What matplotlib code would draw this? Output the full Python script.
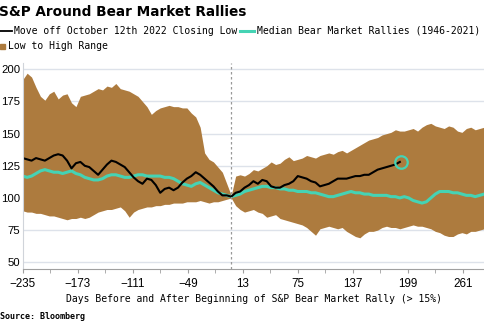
import numpy as np
import matplotlib
matplotlib.use("Agg")
import matplotlib.pyplot as plt
from matplotlib.lines import Line2D
from matplotlib.patches import Rectangle

# days relative to start of rally (5 day steps)
days = np.arange(-235, 290, 5)

range_high = [192, 197, 194, 186, 179, 176, 181, 183, 177, 180,
              181, 174, 171, 179, 180, 181, 183, 185, 184, 187,
              186, 189, 185, 184, 183, 181, 179, 175, 171, 165,
              168, 170, 171, 172, 171, 171, 170, 170, 166, 163,
              155, 135, 130, 128, 124, 120, 111, 102, 117, 118,
              117, 119,
              122, 121, 123, 125, 128, 126, 127, 130, 132, 129,
              130, 131, 133, 132, 131, 133, 134, 135, 134, 136,
              137, 135, 137, 139, 141, 143, 145, 146, 147, 149,
              150, 151, 153, 152, 152, 153, 154, 152, 155, 157,
              158, 156, 155, 154, 156, 155, 152, 151, 154, 155,
              153, 154, 155]

range_low = [90, 89, 89, 88, 88, 87, 86, 86, 85, 84,
             83, 84, 84, 85, 84, 85, 87, 89, 90, 91,
             91, 92, 93, 90, 85, 89, 91, 92, 93, 93,
             94, 94, 95, 95, 96, 96, 96, 97, 97, 97,
             98, 97, 96, 97, 97, 98, 99, 100, 94, 91,
             89, 90,
             91, 89, 88, 85, 86, 87, 84, 83, 82, 81,
             80, 79, 77, 74, 71, 76, 77, 78, 77, 76,
             77, 74, 72, 70, 69, 72, 74, 74, 75, 77,
             78, 77, 77, 76, 77, 78, 79, 78, 78, 77,
             76, 74, 73, 71, 70, 70, 72, 73, 72, 74,
             74, 75, 76]

median_rally = [117, 116, 117, 119, 121, 122, 121, 120, 120, 119,
                120, 121, 119, 118, 116, 115, 114, 114, 115, 117,
                118, 118, 117, 116, 116, 117, 118, 118, 117, 117,
                117, 117, 116, 116, 115, 113, 111, 110, 109, 111,
                112, 110, 108, 106, 104, 103, 102, 101, 102, 103,
                105, 106,
                107, 108, 109, 109, 108, 108, 107, 107, 106, 106,
                105, 105, 105, 104, 104, 103, 102, 101, 101, 102,
                103, 104, 105, 104, 104, 103, 103, 102, 102, 102,
                102, 101, 101, 100, 101, 100, 98, 97, 96, 97,
                100, 103, 105, 105, 105, 104, 104, 103, 102, 102,
                101, 102, 103]

# move off Oct 12th 2022 closing low
days_2022 = np.arange(-235, 195, 5)
move_2022 = [131, 130, 129, 131, 130, 129, 131, 133, 134, 133,
             129, 123, 127, 128, 125, 124, 121, 118, 122, 126,
             129, 128, 126, 124, 120, 116, 113, 111, 115, 114,
             110, 104, 107, 108, 106, 108, 112, 115, 117, 120,
             118, 115, 112, 109, 105, 102, 102, 101, 104, 105,
             108, 110,
             113, 111, 114, 113, 109, 108, 108, 110, 111, 113,
             117, 116, 115, 113, 112, 109, 110, 111, 113, 115,
             115, 115, 116, 117, 117, 118, 118, 120, 122, 123,
             124, 125, 126, 128]

xticks_major = [-235, -173, -111, -49, 13, 75, 137, 199, 261]
yticks = [50, 75, 100, 125, 150, 175, 200]

brown = "#AD7B3E"
teal = "#45D3B4"
mono = "DejaVu Sans Mono"

fig = plt.figure(figsize=(4.85, 3.25), dpi=100)
ax = fig.add_axes([0.0468, 0.1714, 0.9532, 0.635])

ax.fill_between(days, range_low, range_high, color=brown, lw=0)
ax.plot(days, median_rally, color=teal, lw=2.2)
ax.plot(days_2022, move_2022, color="black", lw=1.5)
ax.plot(days_2022[-1] + 1, move_2022[-1], "o", ms=9, mfc="none",
        mec=teal, mew=1.6)
ax.axvline(0, color="#999999", lw=0.9, ls=(0, (2, 2)))

ax.set_xlim(-235, 286)
ax.set_ylim(44.5, 205)
ax.set_yticks(yticks)
ax.set_xticks(xticks_major)
ax.set_xticks(np.arange(-235, 286, 31), minor=True)
ax.grid(axis="y", color="#dde2ea", lw=1)
ax.set_axisbelow(True)

for s in ["top", "right"]:
    ax.spines[s].set_visible(False)
ax.spines["left"].set_color("#d0d4da")
ax.spines["bottom"].set_color("#a0a0a0")

ax.tick_params(axis="y", length=0, pad=1.8, labelsize=8.2)
ax.tick_params(axis="x", which="both", length=3, color="#a0a0a0",
               direction="out", pad=3, labelsize=8.4)
for lbl in ax.get_xticklabels() + ax.get_yticklabels():
    lbl.set_fontfamily("Liberation Sans")

# title and legend
fig.text(-0.002, 0.962, "S&P Around Bear Market Rallies", fontsize=9.8,
         fontweight="bold", family="DejaVu Sans", va="center", ha="left")
fig.add_artist(Line2D([0.0, 0.025], [0.906, 0.906], color="black", lw=1.3))
fig.text(0.029, 0.906, "Move off October 12th 2022 Closing Low", family=mono,
         fontsize=7, va="center", ha="left")
fig.add_artist(Line2D([0.495, 0.524], [0.906, 0.906], color=teal, lw=2.2))
fig.text(0.530, 0.906, "Median Bear Market Rallies (1946-2021)", family=mono,
         fontsize=7, va="center", ha="left")
fig.add_artist(Rectangle((0.0, 0.848), 0.011, 0.017, color=brown,
                         transform=fig.transFigure))
fig.text(0.0165, 0.857, "Low to High Range", family=mono, fontsize=7,
         va="center", ha="left")

fig.text(0.5237, 0.080,
         "Days Before and After Beginning of S&P Bear Market Rally (> 15%)",
         family=mono, fontsize=7, va="center", ha="center")
fig.text(0.0, 0.0255, "Source: Bloomberg", family=mono, fontsize=6,
         fontweight="bold", va="center", ha="left")

fig.savefig("out.png", dpi=100)
